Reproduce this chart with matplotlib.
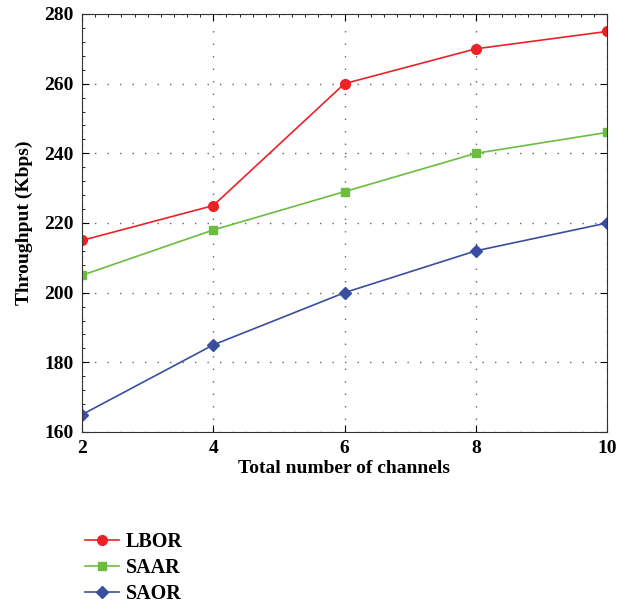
import matplotlib.pyplot as plt
from matplotlib.ticker import MultipleLocator

channels = [2, 4, 6, 8, 10]
lbor = [215, 225, 260, 270, 275]
saar = [205, 218, 229, 240, 246]
saor = [165, 185, 200, 212, 220]

plt.rcParams['font.family'] = ['Liberation Serif', 'DejaVu Serif']
plt.rcParams['font.weight'] = 'bold'

fig = plt.figure(figsize=(6.27, 6.10), dpi=100)
ax = fig.add_axes([82 / 627, 1 - 432 / 610, 525 / 627, 418 / 610])

ax.plot(channels, lbor, "-o", color="#ec2227", linewidth=1.2, markersize=7, label="LBOR")
ax.plot(channels, saar, "-s", color="#6cbd3f", linewidth=1.2, markersize=6, label="SAAR")
ax.plot(channels, saor, "-D", color="#3a4ea0", linewidth=1.2, markersize=6, label="SAOR")

ax.set_xlim(2, 10)
ax.set_ylim(160, 280)
ax.xaxis.set_major_locator(MultipleLocator(2))
ax.yaxis.set_major_locator(MultipleLocator(20))
ax.xaxis.set_minor_locator(MultipleLocator(0.2))
ax.yaxis.set_minor_locator(MultipleLocator(4))
ax.tick_params(which="both", direction="in", top=True, right=True, labelsize=14, pad=6)
ax.tick_params(which="major", length=5)
ax.tick_params(which="minor", length=2.5, bottom=False, right=False)
for lab in ax.get_xticklabels() + ax.get_yticklabels():
    lab.set_fontweight("bold")
for s in ax.spines.values():
    s.set_color("#333333")

ax.grid(True, which="major", linestyle=(0, (1, 8)), color="#666666", linewidth=1)

ax.set_xlabel("Total number of channels", fontsize=14, fontweight="bold", labelpad=2)
ax.set_ylabel("Throughput (Kbps)", fontsize=14, fontweight="bold", labelpad=8)

fig.legend(loc="lower left", bbox_to_anchor=(0.107, -0.02), frameon=False,
           prop={"size": 14.5, "weight": "bold"}, handlelength=1.7, handletextpad=0.3,
           labelspacing=0.3, borderaxespad=0.5)

plt.savefig("out.png", dpi=100)
